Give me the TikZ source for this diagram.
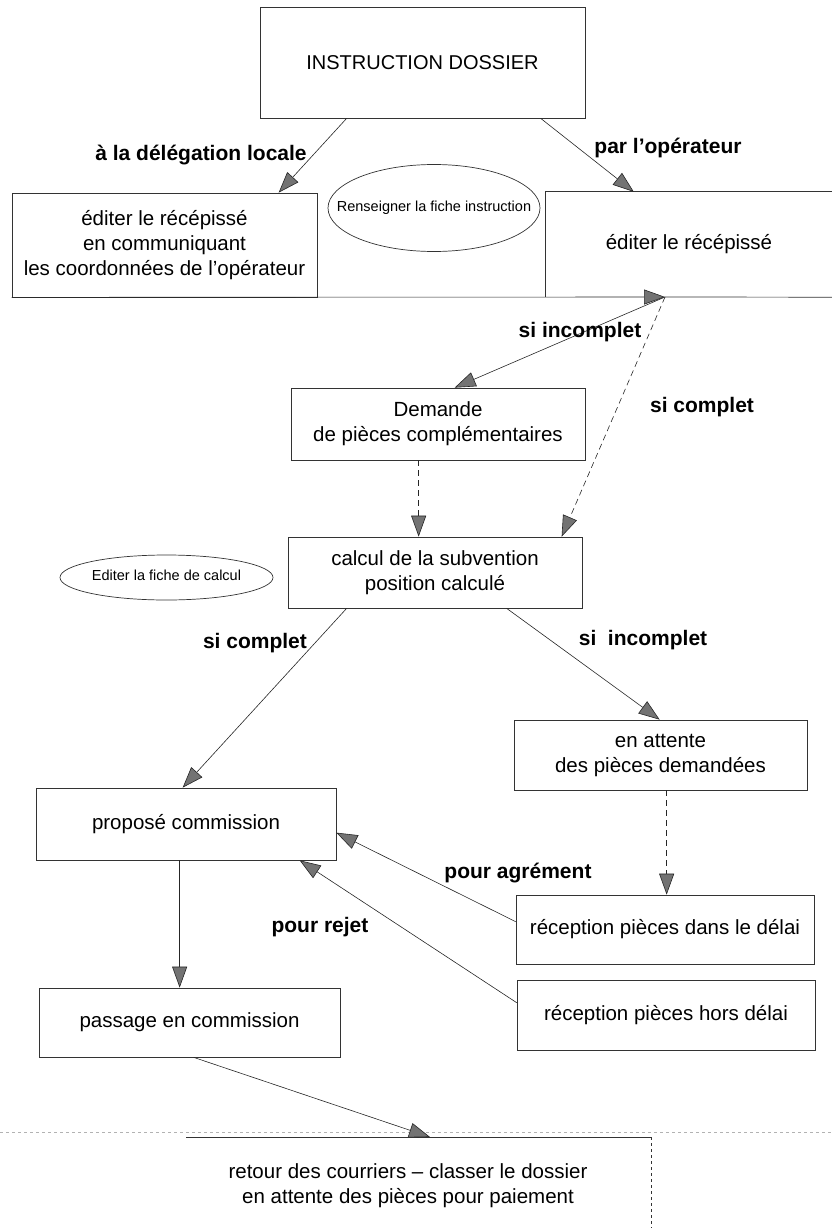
\documentclass[tikz,border=0pt]{standalone}
\usepackage{fontspec}
\setmainfont{Liberation Sans}
\usetikzlibrary{arrows.meta,shapes.geometric}
\begin{document}
\begin{tikzpicture}[x=1pt,y=-1pt,
  box/.style={draw=black!80, line width=0.7pt, rectangle, inner sep=0pt, align=center, font=\fontsize{20.5}{25}\selectfont},
  plain/.style={inner sep=0pt, align=center, font=\fontsize{20.5}{25}\selectfont},
  oval/.style={draw=black!80, line width=0.7pt, ellipse, inner sep=0pt},
  ovaltext/.style={inner sep=0pt, font=\fontsize{14.5}{17}\selectfont},
  lab/.style={inner sep=1pt, font=\bfseries\fontsize{21}{25}\selectfont},
  arr/.style={draw=black!85, line width=0.6pt, -{Triangle[length=21pt,width=15pt,fill=black!55]}},
  darr/.style={arr, dash pattern=on 6pt off 4pt},
  line/.style={draw=black!80, line width=0.7pt}]
\useasboundingbox (0,0) rectangle (832,1228);

% nodes
\node[box, minimum width=325pt, minimum height=111pt, font=\fontsize{20}{24}\selectfont] (ID) at (422.5,62.5) {INSTRUCTION DOSSIER};
\node[box, minimum width=305pt, minimum height=104pt] (E1) at (164.5,245) {éditer le récépissé\\en communiquant\\les coordonnées de l'opérateur};
\node[plain, minimum width=286pt, minimum height=105pt] (E2) at (689,244.5) {éditer le récépissé};
\draw[line] (E2.north east) -- (E2.north west) -- (E2.south west);
\node[oval, minimum width=212pt, minimum height=87pt] (O1) at (434,208) {};
\node[ovaltext] (O1t) at (O1.center) {Renseigner la fiche instruction};

\node[box, minimum width=294pt, minimum height=72pt] (DM) at (438,424) {Demande\\de pièces complémentaires};
\node[box, minimum width=294pt, minimum height=71pt] (CA) at (435,572.5) {calcul de la subvention\\position calculé};
\node[oval, minimum width=213pt, minimum height=45pt] (O2) at (166.5,577.5) {};
\node[ovaltext] (O2t) at ([yshift=2pt]O2.center) {Editer la fiche de calcul};

\node[box, minimum width=293pt, minimum height=70pt] (EA) at (660.5,755) {en attente\\des pièces demandées};
\node[box, minimum width=300pt, minimum height=72pt] (PC) at (186,824) {proposé commission};
\node[box, minimum width=298pt, minimum height=69pt] (R1) at (665,929.5) {réception pièces dans le délai};
\node[box, minimum width=298pt, minimum height=70pt] (R2) at (666,1015) {réception pièces hors délai};
\node[box, minimum width=301pt, minimum height=69pt] (PS) at (189.5,1022.5) {passage en commission};

\node[plain] (RT) at (408,1185.5) {retour des courriers – classer le dossier\\en attente des pièces pour paiement};
\coordinate (Btl) at (186,1137);
\coordinate (Btr) at (651,1137);
\coordinate (Bbr) at (651,1228);
\coordinate (B) at (430,1137);
\draw[black!30, dashed, line width=0.6pt] (0,1132) -- (832,1132);
\draw[line] (Btl) -- (Btr);
\draw[line, dashed] (Btr) -- (Bbr);

% junction on the long line
\coordinate (J) at (665,297);
\draw[arr] (E1.south west) -- (J);
\draw[line] (J) -- (E2.south east);

% connectors
\draw[arr] ([xshift=87pt]ID.south west) -- ([xshift=267pt]E1.north west);
\draw[arr] ([xshift=281pt]ID.south west) -- ([xshift=88pt]E2.north west);
\draw[arr] (J) -- ([xshift=164pt]DM.north west);
\draw[darr] (J) -- ([xshift=274pt]CA.north west);
\draw[darr] ([xshift=128pt]DM.south west) -- ([xshift=131pt]CA.north west);
\draw[arr] ([xshift=59pt]CA.south west) -- ([xshift=147pt]PC.north west);
\draw[arr] ([xshift=219pt]CA.south west) -- ([xshift=146pt]EA.north west);
\draw[darr] ([xshift=153pt]EA.south west) -- ([xshift=151pt]R1.north west);
\draw[arr] ([yshift=-27pt]R1.north west) -- ([yshift=-45pt]PC.north east);
\draw[arr] ([yshift=-23pt]R2.north west) -- ([xshift=264pt]PC.south west);
\draw[arr] ([xshift=144pt]PC.south west) -- ([xshift=141pt]PS.north west);
\draw[arr] ([xshift=155pt]PS.south west) -- (B);

% labels
\node[lab] (L1) at (201,155) {à la délégation locale};
\node[lab] (L2) at (668,148) {par l'opérateur};
\node[lab] (L3) at (580,332) {si incomplet};
\node[lab] (L4) at (702,407) {si complet};
\node[lab] (L5) at (255,643) {si complet};
\node[lab] (L6) at (643,640) {si\ \ incomplet};
\node[lab] (L7) at (518,873) {pour agrément};
\node[lab] (L8) at (320,927) {pour rejet};
\end{tikzpicture}
\end{document}
